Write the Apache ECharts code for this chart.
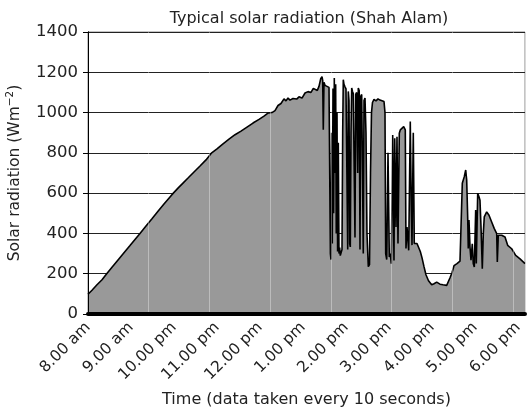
<!DOCTYPE html>
<html>
<head>
<meta charset="utf-8">
<script src="https://cdn.jsdelivr.net/npm/echarts@6/dist/echarts.min.js"></script>
<style>
html,body{margin:0;padding:0;background:#fff;}
#chart{width:527px;height:412px;}
</style>
</head>
<body>
<div id="chart"></div>
<script>
// Time in hours after 8.00 am
const hours = [
 0.000,0.093,0.209,0.326,0.435,0.558,0.698,0.837,0.977,1.093,
 1.209,1.349,1.488,1.628,1.767,1.907,1.984,2.093,2.209,2.326,
 2.465,2.605,2.744,2.877,3.000,3.140,3.279,3.419,3.558,3.698,
 3.837,3.977,4.093,4.193,4.279,4.349,4.419,4.488,4.558,4.605,
 4.651,4.698,4.767,4.853,4.907,4.977,5.047,5.116,5.186,5.240,
 5.279,5.333,5.372,5.412,5.442,5.458,5.472,5.488,5.512,5.558,
 5.605,
 5.628,5.637,5.651,5.667,5.681,5.698,5.712,5.728,5.744,5.760,
 5.774,5.791,5.805,5.821,5.837,5.853,5.867,5.884,5.907,5.923,
 5.937,5.953,5.977,6.000,6.023,6.040,6.053,6.070,6.086,6.100,
 6.116,6.133,6.151,6.170,6.193,6.209,6.226,6.249,6.272,6.286,
 6.307,6.326,6.342,6.365,6.384,6.402,6.419,6.442,6.465,6.488,
 6.519,6.547,6.570,6.593,6.616,6.651,6.698,6.744,6.791,6.837,
 6.884,6.907,6.923,
 6.947,6.977,7.007,7.030,7.053,7.086,7.116,7.133,7.163,7.186,
 7.209,7.240,7.263,7.302,7.342,7.379,7.395,7.419,7.458,7.495,
 7.519,7.535,7.565,7.588,7.651,7.728,7.767,7.814,7.860,7.919,
 7.993,8.047,8.109,8.186,8.256,8.342,8.419,8.465,8.512,8.581,
 8.651,8.691,8.705,8.751,8.784,8.807,8.830,8.844,8.860,8.884,
 8.907,8.937,8.960,8.984,9.016,9.030,9.063,9.093,9.116,9.140,
 9.170,9.193,9.216,9.272,9.326,9.388,9.449,9.505,9.519,9.542,
 9.621,9.698,9.760,9.853,9.947,10.047,10.163
];
// Solar radiation (W m^-2)
const radiation = [
 98,118,145,170,200,232,268,304,340,370,
 400,437,473,510,546,581,600,625,650,675,
 705,735,765,800,820,845,868,890,908,928,
 948,966,982,998,1000,1010,1035,1045,1068,1058,
 1072,1062,1070,1067,1078,1072,1097,1104,1100,1120,
 1112,1110,1130,1168,1178,1160,915,1150,1135,1130,
 1125,
 1120,300,270,900,350,1120,500,1172,700,1140,
 400,1000,310,850,300,330,290,295,320,900,
 1163,1140,1128,1118,1110,320,1105,1060,350,333,
 900,1122,1105,1094,1098,380,1090,1100,700,1122,
 1110,320,1080,1090,700,300,1060,1072,900,400,
 235,245,700,1000,1050,1065,1058,1068,1062,1066,
 1055,1000,300,
 270,801,283,300,250,889,266,872,432,880,
 350,897,914,905,930,914,325,432,316,956,
 516,342,900,350,350,310,280,235,195,165,
 145,150,158,148,145,142,180,205,240,250,
 262,270,649,682,715,665,482,325,466,332,
 267,349,251,233,516,251,599,582,565,432,
 225,399,482,507,490,457,424,399,258,391,
 391,382,341,324,291,274,250
];
const hourLabels = ['8.00 am','9.00 am','10.00 pm','11.00 pm','12.00 pm','1.00 pm',
  '2.00 pm','3.00 pm','4.00 pm','5.00 pm','6.00 pm'];
const yTicks = [0,200,400,600,800,1000,1200,1400];

const FONT = 'DejaVu Sans';
const chart = echarts.init(document.getElementById('chart'), null, {renderer:'canvas'});
const data = hours.map((h,i)=>[h, radiation[i]]);

chart.setOption({
  animation:false,
  backgroundColor:'#fff',
  textStyle:{fontFamily:FONT},
  title:{
    text:'Typical solar radiation (Shah Alam)',
    left:304, top:6, textAlign:'center',
    textStyle:{fontFamily:FONT, fontSize:16, fontWeight:'normal', color:'#222'}
  },
  grid:{left:88, top:32, right:2, bottom:98, show:true, borderColor:'#888', borderWidth:1,
    backgroundColor:'transparent', containLabel:false, outerBoundsMode:'none'},
  xAxis:[{
    type:'value', min:0, max:hours[hours.length-1], interval:1,
    offset:2, z:6,
    axisLine:{show:true, lineStyle:{color:'#000', width:4}},
    axisTick:{show:false},
    splitLine:{show:false},
    axisLabel:{rotate:45, margin:9, fontSize:15.5, color:'#222', fontFamily:FONT,
      showMaxLabel:false,
      formatter:(v)=>{const i=Math.round(v); return (Math.abs(v-i)<1e-6 && hourLabels[i])?hourLabels[i]:'';}},
    name:'Time (data taken every 10 seconds)', nameLocation:'middle', nameGap:76,
    nameTextStyle:{fontSize:16, color:'#222', fontFamily:FONT}
  },{
    type:'value', min:0, max:7.2, interval:1, z:6,
    axisLine:{show:false}, axisTick:{show:false}, axisLabel:{show:false},
    splitLine:{show:true, lineStyle:{color:'rgba(255,255,255,0.35)', width:1}}
  }],
  yAxis:[{
    type:'value', min:0, max:1400, interval:200,
    axisLine:{show:true, lineStyle:{color:'#000', width:1}},
    axisTick:{show:true, length:5, lineStyle:{color:'#000'}},
    axisLabel:{fontSize:16.5, color:'#222', margin:10, fontFamily:FONT,
      formatter:(v)=>yTicks.includes(v)?String(v):''},
    splitLine:{show:true, lineStyle:{color:'#222', width:1}},
    name:'{a|Solar radiation (Wm}{s|−2}{a|)}', nameLocation:'middle', nameGap:60, nameRotate:90,
    nameTextStyle:{
      rich:{
        a:{fontSize:15.5, color:'#222', fontFamily:FONT, lineHeight:20},
        s:{fontSize:10.5, color:'#222', fontFamily:FONT, padding:[0,0,9,0], lineHeight:20}
      }
    }
  },{
    type:'value', min:0, max:1400, interval:200, z:6,
    axisLine:{show:true, lineStyle:{color:'#000', width:1}},
    axisTick:{show:false}, axisLabel:{show:false}, splitLine:{show:false}
  }],
  series:[{
    type:'line', data:data, xAxisIndex:0, yAxisIndex:0,
    symbol:'none', smooth:false,
    lineStyle:{color:'#000', width:1.6},
    areaStyle:{color:'#999999', opacity:1},
    z:2
  }]
});
</script>
</body>
</html>
